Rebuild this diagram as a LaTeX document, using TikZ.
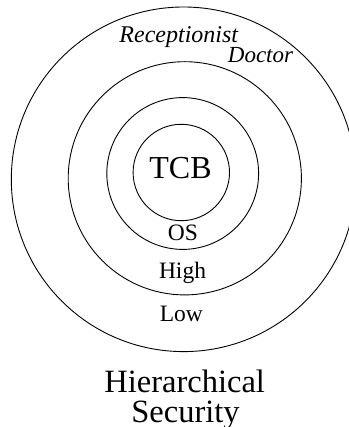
\documentclass[tikz,border=0pt]{standalone}
\usepackage{fontspec}
\setmainfont{Liberation Serif}
\begin{document}
\begin{tikzpicture}[x=1pt,y=-1pt,ring/.style={circle,draw,line width=0.9pt,inner sep=0pt},tag/.style={inner sep=0pt,anchor=base,font=\fontsize{23.5}{28}\selectfont},rolename/.style={tag,font=\fontsize{24}{28}\selectfont\itshape}]
          \useasboundingbox (0,0) rectangle (348,427);
          \begin{scope}
            \node[ring,minimum size=344.6pt] (low) at (183.6,179.3) {};
            \node[ring,minimum size=233.2pt] (high) at (184.8,178.3) {};
            \node[ring,minimum size=151.8pt] (os) at (182.7,173.5) {};
            \node[ring,minimum size=96.4pt] (tcb) at (181.3,172.5) {};
          \end{scope}
          \node[tag,font=\fontsize{32}{36}\selectfont] (tcbtext) at (180.5,178.3) {TCB};
          \node[tag] (ostext) at (182.8,240.7) {OS};
          \node[tag] (hightext) at (182.5,278.3) {High};
          \node[tag] (lowtext) at (181.3,321.7) {Low};
          \node[rolename] (recep) at (178.8,42.3) {Receptionist};
          \node[rolename,font=\fontsize{23}{28}\selectfont\itshape] (doctor) at (260.5,62.7) {Doctor};
          \node[tag,font=\fontsize{32.5}{36}\selectfont] (hier) at (184.7,392.3) {Hierarchical};
          \node[tag,font=\fontsize{32.5}{36}\selectfont] (sec) at (185.5,422.7) {Security};
        \end{tikzpicture}
\end{document}
